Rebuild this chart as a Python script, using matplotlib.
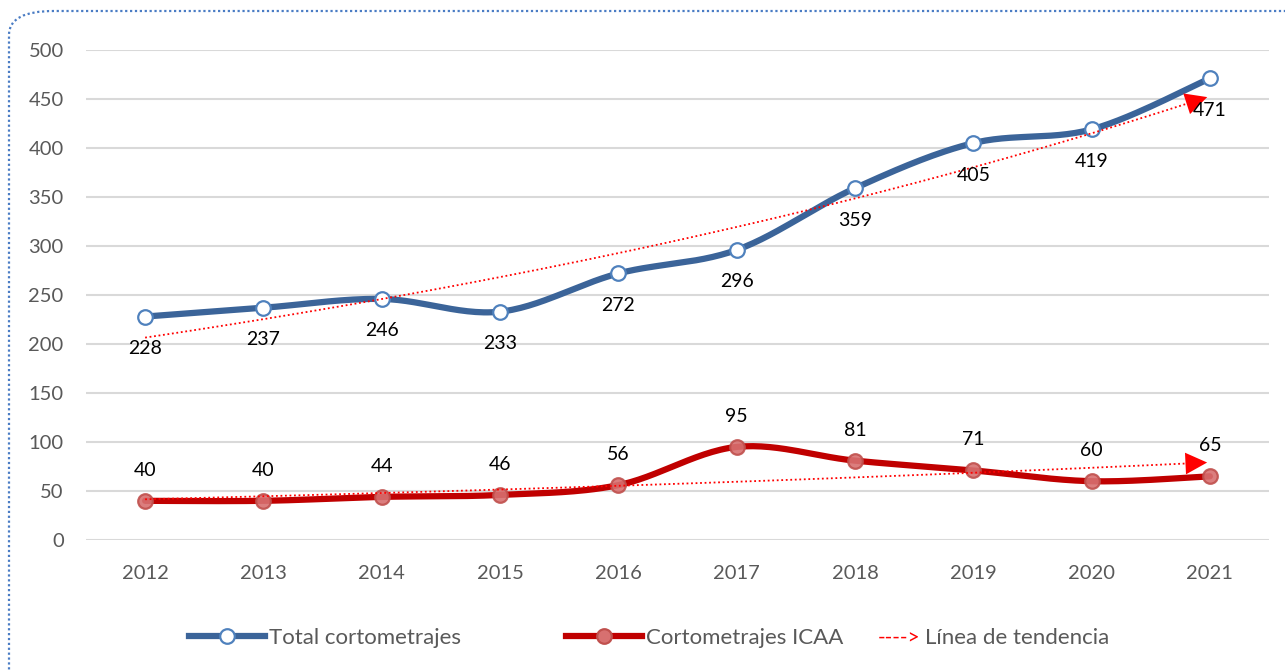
import numpy as np
import matplotlib
matplotlib.use("Agg")
import matplotlib.pyplot as plt
from matplotlib.patches import FancyBboxPatch
from matplotlib.lines import Line2D

# datos
years = [2012, 2013, 2014, 2015, 2016, 2017, 2018, 2019, 2020, 2021]
total = [228, 237, 246, 233, 272, 296, 359, 405, 419, 471]
icaa = [40, 40, 44, 46, 56, 95, 81, 71, 60, 65]
yticks = [0, 50, 100, 150, 200, 250, 300, 350, 400, 450, 500]

plt.rcParams['font.family'] = ['Lato', 'DejaVu Sans']

blue = '#3b6499'
blue_edge = '#4f81bd'
red = '#c00000'
grey = '#595959'


def smooth(y, n=30):
    # curva suavizada tipo Excel (Bezier con tangentes Catmull-Rom)
    x = np.arange(len(y), dtype=float)
    y = np.asarray(y, dtype=float)
    P = np.column_stack([x, y])
    out = []
    t = np.linspace(0, 1, n)
    for i in range(len(P) - 1):
        p0 = P[i - 1] if i > 0 else P[i]
        p3 = P[i + 2] if i + 2 < len(P) else P[i + 1]
        c1 = P[i] + (P[i + 1] - p0) / 6
        c2 = P[i + 1] - (p3 - P[i]) / 6
        seg = ((1 - t) ** 3)[:, None] * P[i] + (3 * (1 - t) ** 2 * t)[:, None] * c1 \
            + (3 * (1 - t) * t ** 2)[:, None] * c2 + (t ** 3)[:, None] * P[i + 1]
        out.append(seg)
    s = np.vstack(out)
    return s[:, 0], s[:, 1]


fig = plt.figure(figsize=(12.85, 6.72), dpi=100)
ax = fig.add_axes([0.0669, 0.1964, 0.9207, 0.7292])

xi = np.arange(len(years))

# grid
for v in yticks:
    ax.axhline(v, color='#d9d9d9', lw=1.5, zorder=0)

# total
sx, sy = smooth(total)
ax.plot(sx, sy, color=blue, lw=4.5, solid_capstyle='round', zorder=3)
ax.plot(xi, total, 'o', ms=10.5, mfc='white', mec=blue_edge, mew=1.6, zorder=4)

# icaa
sx, sy = smooth(icaa)
ax.plot(sx, sy, color=red, lw=4.5, solid_capstyle='round', zorder=3)
ax.plot(xi, icaa, 'o', ms=10.5, mfc='#d77070', mec='#c0504d', mew=1.6, alpha=0.9, zorder=4)

# tendencias exponenciales con flecha
x1 = 8.96
for serie in (total, icaa):
    b, lna = np.polyfit(xi, np.log(serie), 1)
    tx = np.linspace(0, x1 - 0.05, 100)
    ty = np.exp(lna + b * tx)
    ax.plot(tx, ty, color='red', lw=1.3, ls=(0, (1, 1.5)), zorder=5)
    dx = 0.14
    ax.annotate('', xy=(x1 + 0.04, np.exp(lna + b * (x1 + 0.04))),
                xytext=(x1 - dx, np.exp(lna + b * (x1 - dx))),
                arrowprops=dict(arrowstyle='-|>,head_length=0.6,head_width=0.3',
                                mutation_scale=26, color='red', lw=0),
                zorder=5)

# etiquetas
for i, v in enumerate(total):
    ax.annotate(str(v), (i, v), xytext=(0, -23), textcoords='offset points',
                ha='center', va='center', fontsize=14, color='black', zorder=6)
for i, v in enumerate(icaa):
    ax.annotate(str(v), (i, v), xytext=(0, 22), textcoords='offset points',
                ha='center', va='center', fontsize=14, color='black', zorder=6)

ax.set_xlim(-0.5, len(years) - 0.5)
ax.set_ylim(0, 500)
ax.set_xticks(xi)
ax.set_xticklabels([str(y) for y in years])
ax.set_yticks(yticks)
ax.tick_params(length=0, labelsize=14.5, labelcolor=grey)
ax.tick_params(axis='x', pad=18)
ax.tick_params(axis='y', pad=16)
for s in ax.spines.values():
    s.set_visible(False)
ax.patch.set_alpha(0)

# leyenda
ly = 1 - 638 / 672
h1 = Line2D([], [], color=blue, lw=4.5, marker='o', ms=10.5, mfc='white', mec=blue_edge, mew=1.6)
h2 = Line2D([], [], color=red, lw=4.5, marker='o', ms=10.5, mfc='#d77070', mec='#c0504d', mew=1.6)
leg1 = fig.legend([h1], ['Total cortometrajes'], loc='center left',
                  bbox_to_anchor=(189 / 1285, ly), frameon=False, fontsize=16,
                  handlelength=3.4, handletextpad=0.2, borderpad=0, borderaxespad=0)
leg2 = fig.legend([h2], ['Cortometrajes ICAA'], loc='center left',
                  bbox_to_anchor=(566 / 1285, ly), frameon=False, fontsize=16,
                  handlelength=3.4, handletextpad=0.2, borderpad=0, borderaxespad=0)
for lg in (leg1, leg2):
    for t in lg.get_texts():
        t.set_color(grey)
fig.text(878 / 1285, ly, '---->', color='red', fontsize=15, ha='left', va='center')
fig.text(925 / 1285, ly, 'Línea de tendencia', color=grey, fontsize=16, ha='left', va='center')

# borde punteado redondeado
box = FancyBboxPatch((9 / 1285, -0.05), 1.2, 1 - 11 / 672 + 0.05,
                     boxstyle='round,pad=0,rounding_size=0.035',
                     transform=fig.transFigure, fill=False, ec='#4a7cc4', lw=1.6,
                     ls=(0, (1, 1.2)), zorder=10)
fig.add_artist(box)

fig.savefig('out.png', dpi=100)
